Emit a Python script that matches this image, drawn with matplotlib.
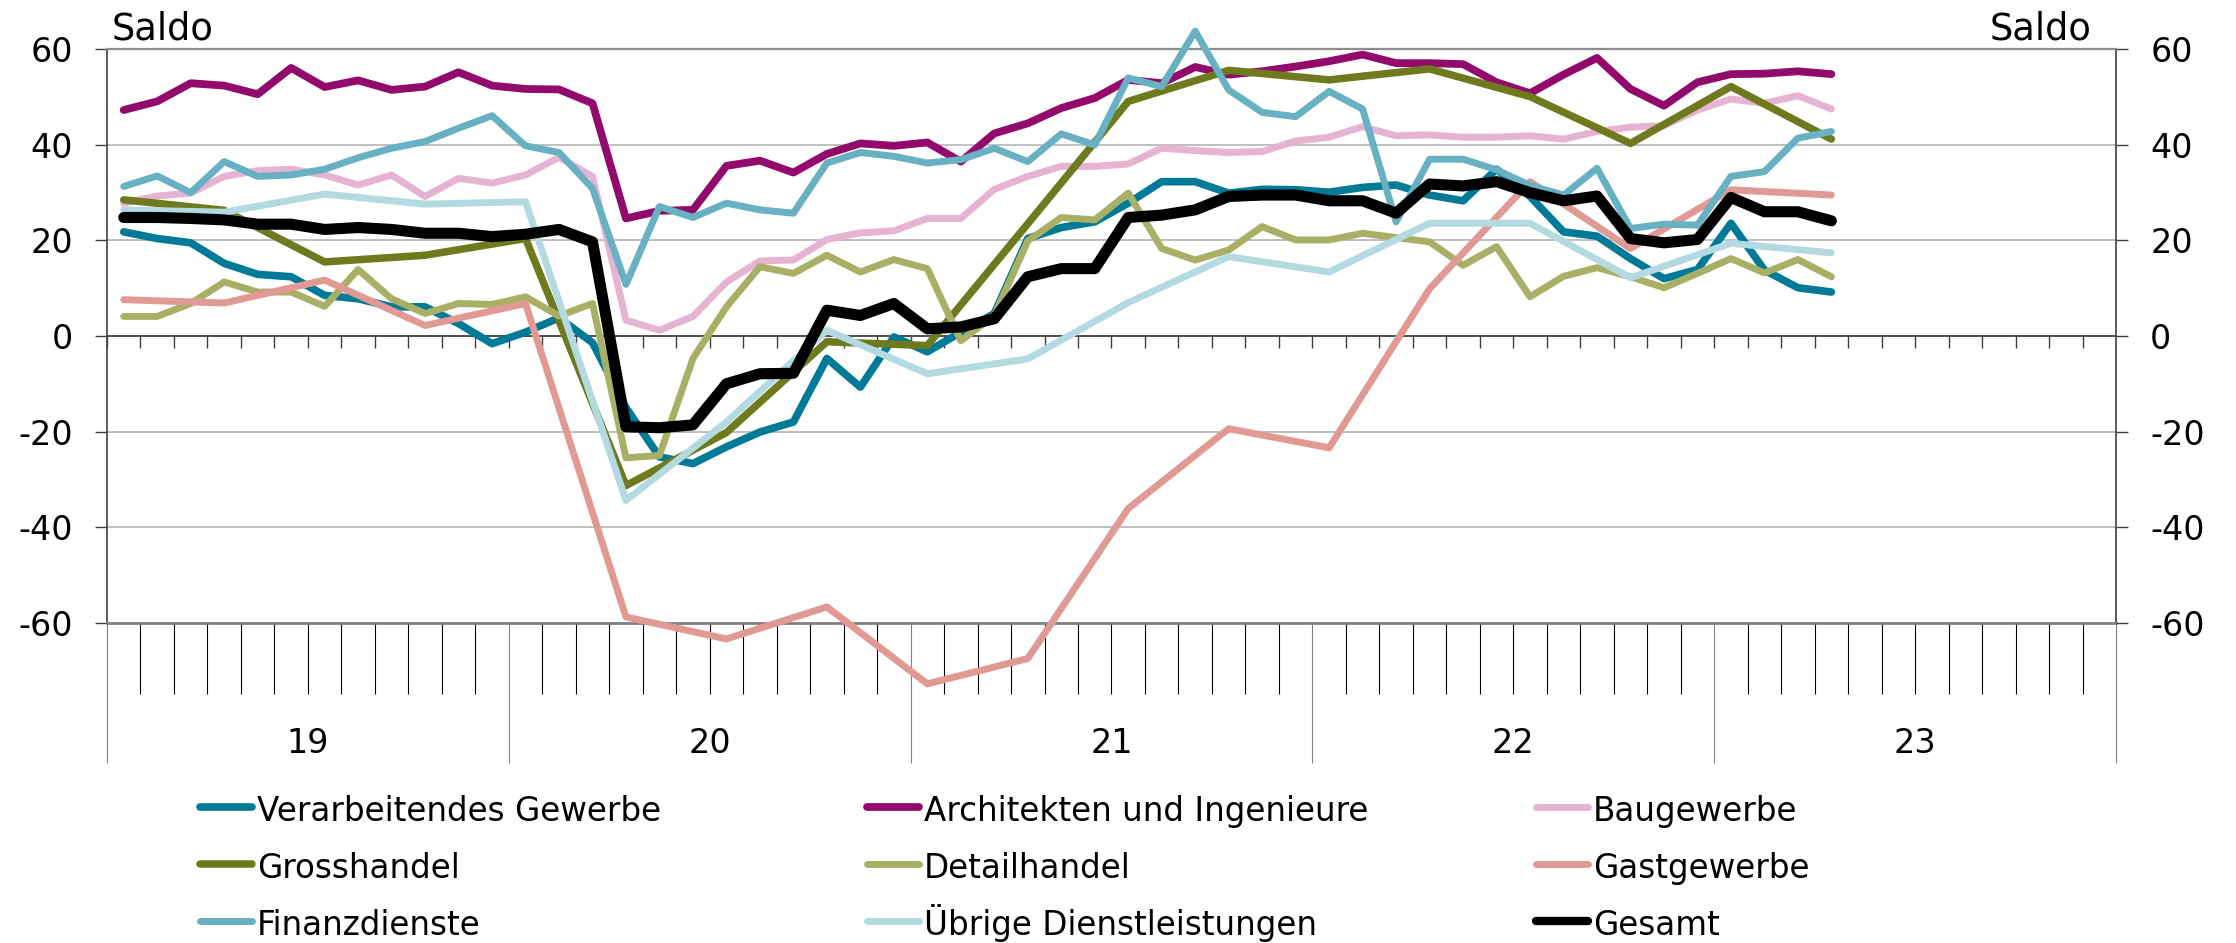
import numpy as np
import matplotlib.pyplot as plt
from matplotlib import transforms
from matplotlib.lines import Line2D

plt.rcParams['font.family'] = ['DejaVu Sans']
plt.rcParams['axes.unicode_minus'] = False

# Saldo, monatlich ab Januar 2019 (52 Werte bis April 2023)
verarbeitendes = [21.8, 20.4, 19.5, 15.2, 12.9, 12.4, 8.5, 7.8, 6.1, 6.1, 2.6, -1.6,
                  0.8, 3.8, -1.4, -15.0, -25.3, -26.7, -23.2, -20.1, -18.0, -4.7, -10.7, -0.2,
                  -3.3, 0.8, 4.7, 20.4, 22.7, 23.9, 27.8, 32.3, 32.3, 29.9, 30.7, 30.6,
                  30.1, 31.1, 31.6, 29.5, 28.3, 34.9, 29.2, 21.8, 20.9, 16.2, 12.0, 13.9,
                  23.6, 13.8, 10.1, 9.2]
architekten = [47.3, 49.1, 52.9, 52.4, 50.6, 56.1, 52.1, 53.5, 51.5, 52.2, 55.2, 52.4,
               51.7, 51.6, 48.7, 24.6, 26.2, 26.4, 35.6, 36.7, 34.2, 38.1, 40.3, 39.8,
               40.5, 36.5, 42.4, 44.5, 47.7, 49.8, 53.6, 52.9, 56.3, 54.7, 55.4, 56.4,
               57.5, 58.9, 57.1, 57.1, 56.9, 53.1, 50.8, 54.7, 58.2, 51.7, 48.2, 53.1,
               54.8, 54.9, 55.4, 54.8]
baugewerbe = [27.8, 29.3, 29.9, 33.4, 34.6, 34.9, 33.7, 31.6, 33.7, 29.2, 33.0, 32.0,
              33.7, 37.4, 33.4, 3.3, 1.2, 4.1, 11.3, 15.7, 15.9, 20.2, 21.6, 22.0,
              24.6, 24.6, 30.7, 33.4, 35.5, 35.5, 36.0, 39.3, 38.8, 38.4, 38.6, 40.8,
              41.6, 43.8, 41.9, 42.1, 41.6, 41.6, 41.9, 41.2, 42.8, 43.7, 44.0, 47.3,
              49.6, 48.7, 50.3, 47.5]
detailhandel = [4.1, 4.1, 6.8, 11.3, 9.2, 9.2, 6.2, 13.9, 7.8, 4.7, 6.8, 6.6,
                8.2, 4.2, 6.8, -25.5, -25.0, -4.7, 6.1, 14.5, 13.1, 16.9, 13.4, 16.0,
                14.1, -1.0, 4.3, 19.9, 24.8, 24.3, 29.9, 18.3, 15.9, 18.0, 22.9, 20.1,
                20.1, 21.5, 20.6, 19.7, 14.8, 18.7, 8.2, 12.5, 14.3, 12.4, 10.1, 13.1,
                16.2, 13.2, 16.0, 12.4]
finanzdienste = [31.3, 33.5, 30.0, 36.5, 33.4, 33.7, 34.9, 37.3, 39.3, 40.7, 43.5, 46.1,
                 39.8, 38.4, 30.9, 10.8, 27.1, 24.8, 27.8, 26.4, 25.7, 36.2, 38.4, 37.6,
                 36.2, 36.9, 39.3, 36.5, 42.3, 40.0, 54.0, 52.2, 63.8, 51.5, 46.8, 45.9,
                 51.2, 47.5, 23.9, 37.0, 37.0, 34.8, 31.5, 29.5, 35.1, 22.5, 23.4, 23.2,
                 33.4, 34.4, 41.4, 42.8]
gesamt = [24.8, 24.8, 24.6, 24.3, 23.4, 23.4, 22.3, 22.7, 22.3, 21.5, 21.5, 20.8,
          21.3, 22.3, 19.7, -19.0, -19.2, -18.6, -10.0, -7.9, -7.8, 5.4, 4.3, 6.8,
          1.5, 1.9, 3.6, 12.4, 14.1, 14.1, 24.8, 25.3, 26.4, 29.2, 29.5, 29.5,
          28.3, 28.3, 25.7, 31.8, 31.4, 32.3, 30.0, 28.3, 29.3, 20.4, 19.5, 20.2,
          29.0, 26.0, 26.0, 24.1]

# quartalsweise erhobene Branchen (Jan, Apr, Jul, Okt)
grosshandel = [28.5, 26.3, 15.5, 16.9, 20.4, -31.3, -20.2, -1.2, -2.0, 23.5,
               49.1, 55.6, 53.6, 55.9, 50.1, 40.3, 52.2, 41.2]
gastgewerbe = [7.6, 6.9, 11.7, 2.2, 6.8, -58.8, -63.4, -56.7, -72.8, -67.5,
               -36.1, -19.4, -23.4, 9.9, 32.3, 18.3, 30.6, 29.5]
uebrige = [26.4, 25.9, 29.7, 27.6, 28.1, -34.4, -18.0, 1.2, -7.9, -4.8,
           7.0, 16.6, 13.4, 23.6, 23.6, 12.2, 19.4, 17.4]

years = ['19', '20', '21', '22', '23']

months = np.arange(len(gesamt)) + 0.5
quarters = np.arange(0, len(gesamt), 3) + 0.5

# Reihenfolge wie in der Legende (zeilenweise), Gesamt zuoberst
series = [
    ('Verarbeitendes Gewerbe', months, verarbeitendes, '#007a96', 5.5),
    ('Architekten und Ingenieure', months, architekten, '#920b6c', 5.6),
    ('Baugewerbe', months, baugewerbe, '#e6b3d2', 5.0),
    ('Grosshandel', quarters, grosshandel, '#6f7a1f', 5.4),
    ('Detailhandel', months, detailhandel, '#a9b066', 5.0),
    ('Gastgewerbe', quarters, gastgewerbe, '#e19994', 5.0),
    ('Finanzdienste', months, finanzdienste, '#67b1c3', 5.0),
    ('Übrige Dienstleistungen', quarters, uebrige, '#b3d9e1', 5.0),
    ('Gesamt', months, gesamt, '#000000', 8.0),
]

fig = plt.figure(figsize=(22.36, 9.43), dpi=100)
ax = fig.add_axes([0.04785, 0.33966, 0.89848, 0.60806])

for label, x, y, color, lw in series:
    ax.plot(x, y, color=color, lw=lw, label=label, clip_on=False,
            solid_capstyle='round', solid_joinstyle='round', zorder=3)

ax.set_xlim(0, 60)
ax.set_ylim(-60, 60)
ax.set_yticks(range(-60, 61, 20))
for v in (-40, -20, 20, 40):
    ax.axhline(v, color='#c0c0c0', lw=1.4, zorder=1)
ax.axhline(0, color='#404040', lw=1.3, zorder=2)
# kleine Monatsstriche an der Nulllinie
ax.vlines(np.arange(61), -2.5, 0, color='#404040', lw=1.0, zorder=2)

# Monats- und Jahresstriche unter der Achse
ax.set_xticks([m for m in range(61) if m % 12])
ax.set_xticks(range(0, 61, 12), minor=True)
ax.tick_params(axis='x', which='major', length=51, width=0.8, color='#000000',
               labelbottom=False)
ax.tick_params(axis='x', which='minor', length=101, width=0.8, color='#808080',
               labelbottom=False)
ax.tick_params(axis='y', length=8.6, width=1.0, color='#404040', pad=16, labelsize=24)

for side in ('left', 'right'):
    ax.spines[side].set_color('#404040')
    ax.spines[side].set_linewidth(1.2)
ax.spines['top'].set_color('#8c8c8c')
ax.spines['top'].set_linewidth(1.6)
ax.spines['bottom'].set_color('#808080')
ax.spines['bottom'].set_linewidth(2.0)

ax2 = ax.twinx()
ax2.set_ylim(-60, 60)
ax2.set_yticks(range(-60, 61, 20))
ax2.tick_params(axis='y', length=8.6, width=1.0, color='#404040', pad=16, labelsize=24)
for s in ax2.spines.values():
    s.set_visible(False)

trans = transforms.blended_transform_factory(ax.transData, ax.transAxes)
for k, yr in enumerate(years):
    ax.text(6 + 12 * k, -0.21, yr, transform=trans, ha='center', va='center', fontsize=24)

fig.text(112 / 2236, 1 - 40 / 943, 'Saldo', fontsize=26.5, ha='left', va='baseline')
fig.text(2091 / 2236, 1 - 40 / 943, 'Saldo', fontsize=26.5, ha='right', va='baseline')

# Legende von Hand, drei Spalten zeilenweise, damit die Zeilen exakt fluchten
W, H = 2236, 943
col_left = [200, 867, 1536]
row_line = [807, 864, 921]
for i, (label, x, y, color, lw) in enumerate(series):
    r, c = divmod(i, 3)
    x0 = col_left[c]
    yl = 1 - row_line[r] / H
    fig.add_artist(Line2D([x0 / W, (x0 + 52) / W], [yl, yl], color=color,
                          lw=min(lw, 6.0), solid_capstyle='round',
                          transform=fig.transFigure))
    fig.text((x0 + 57) / W, 1 - (row_line[r] + 14) / H, label, fontsize=23.5,
             ha='left', va='baseline')

fig.savefig('out.png', dpi=100)
